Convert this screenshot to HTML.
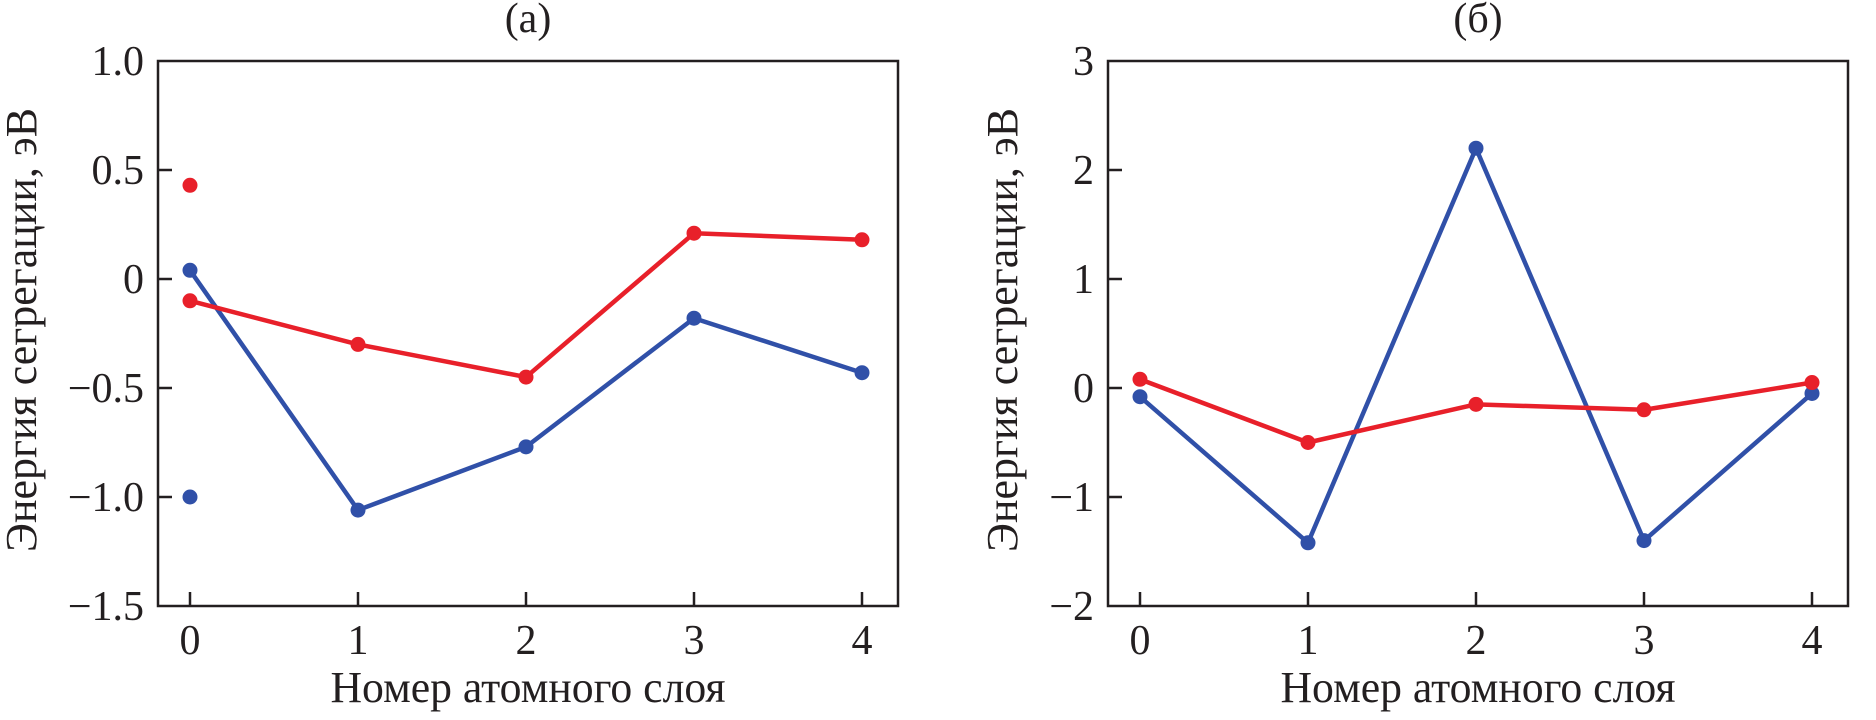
<!DOCTYPE html>
<html><head><meta charset="utf-8"><style>
body{margin:0;background:#fff}
svg text{font-family:"Liberation Serif",serif;fill:#231f20}
</style></head><body>
<svg id="s" width="1876" height="715" xmlns="http://www.w3.org/2000/svg"></svg>
<script>
const layers=[0,1,2,3,4];
const aRed=[-0.10,-0.30,-0.45,0.21,0.18];
const aRedExtra=[0.43];
const aBlue=[0.04,-1.06,-0.77,-0.18,-0.43];
const aBlueExtra=[-1.0];
const aTicks=[1.0,0.5,0,-0.5,-1.0,-1.5];
const aTickLabels=["1.0","0.5","0","\u22120.5","\u22121.0","\u22121.5"];
const bRed=[0.08,-0.50,-0.15,-0.20,0.05];
const bBlue=[-0.08,-1.42,2.2,-1.40,-0.05];
const bTicks=[3,2,1,0,-1,-2];
const bTickLabels=["3","2","1","0","\u22121","\u22122"];
const NS="http://www.w3.org/2000/svg";
const svg=document.getElementById('s');
function el(t,a,p){const e=document.createElementNS(NS,t);for(const k in a)e.setAttribute(k,a[k]);(p||svg).appendChild(e);return e;}
function panel(name,L,title,yMin,yMax,ticks,labels,red,blue,redX,blueX,ytX){
  const g=el('g',{});
  
  
  const T=61,B=606,R=L+740;
  const x0=L+32,dx=168;
  const X=i=>x0+dx*i;
  const Y=v=>B-(v-yMin)/(yMax-yMin)*(B-T);
  const box=el('rect',{x:L,y:T,width:R-L,height:B-T,fill:'none',stroke:'#231f20','stroke-width':2.5},g);
  
  
  ticks.forEach((v,i)=>{
    const y=Y(v);
    if(i>0&&i<ticks.length-1){const t=el('line',{x1:L,x2:L+14,y1:y,y2:y,stroke:'#231f20','stroke-width':2.5},g);
    
    }
    const tx=el('text',{x:L-14,y:y+14,'font-size':42,'text-anchor':'end'},g);tx.textContent=labels[i];
    
    
  });
  layers.forEach(l=>{
    const x=X(l);
    const t=el('line',{x1:x,x2:x,y1:B,y2:B-14,stroke:'#231f20','stroke-width':2.5},g);
    
    
    const tx=el('text',{x:x,y:B+48,'font-size':42,'text-anchor':'middle'},g);tx.textContent=l;
    
    
  });
  const tt=el('text',{x:(L+R)/2,y:32,'font-size':42,'text-anchor':'middle'},g);tt.textContent=title;
  
  
  const xt=el('text',{x:(L+R)/2,y:702,'font-size':44,'text-anchor':'middle',textLength:395,lengthAdjust:'spacingAndGlyphs'},g);xt.textContent='Номер атомного слоя';
  
  
  const yt=el('text',{x:0,y:0,'font-size':44,'text-anchor':'middle',textLength:444,lengthAdjust:'spacingAndGlyphs',transform:`translate(${ytX},330) rotate(-90)`},g);yt.textContent='Энергия сегрегации, эВ';
  
  
  [[blue,'#3050a8','blue-series',blueX],[red,'#e8202a','red-series',redX]].forEach(([d,c,n,ex])=>{
    const pl=el('polyline',{points:d.map((v,i)=>X(layers[i])+','+Y(v)).join(' '),fill:'none',stroke:c,'stroke-width':4.5,'stroke-linejoin':'round'},g);
    
    
    d.forEach((v,i)=>{const p=el('circle',{cx:X(layers[i]),cy:Y(v),r:7.5,fill:c},g);
      
      });
    ex.forEach(v=>{const p=el('circle',{cx:X(0),cy:Y(v),r:7.5,fill:c},g);
      
      });
  });
}
panel('panel-a',158,'(а)',-1.5,1.0,aTicks,aTickLabels,aRed,aBlue,aRedExtra,aBlueExtra,36);
panel('panel-b',1108,'(б)',-2,3,bTicks,bTickLabels,bRed,bBlue,[],[],1017);
</script>
</body></html>
